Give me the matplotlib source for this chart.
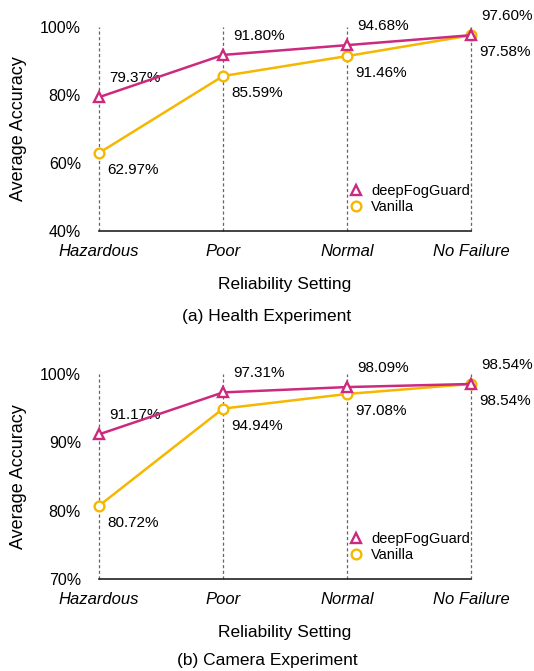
import matplotlib
matplotlib.use("Agg")
import matplotlib.pyplot as plt
from matplotlib.lines import Line2D

plt.rcParams['font.family'] = ['Liberation Sans', 'DejaVu Sans']

settings = ["Hazardous", "Poor", "Normal", "No Failure"]

health_fog = [79.37, 91.80, 94.68, 97.60]
health_vanilla = [62.97, 85.59, 91.46, 97.58]
health_ticks = [40, 60, 80, 100]

camera_fog = [91.17, 97.31, 98.09, 98.54]
camera_vanilla = [80.72, 94.94, 97.08, 98.54]
camera_ticks = [70, 80, 90, 100]

captions = ["(a) Health Experiment", "(b) Camera Experiment"]

FOG_COLOR = "#CC2A7F"
VAN_COLOR = "#F5B700"

fig = plt.figure(figsize=(5.34, 6.71), dpi=100)


def draw_panel(rect, fog, van, ticks):
    ax = fig.add_axes(rect)
    x = list(range(len(settings)))
    lo, hi = ticks[0], ticks[-1]
    # dashed guide at every setting
    for xi in x:
        ax.plot([xi, xi], [lo, hi], color="#666666", lw=0.9, ls=(0, (2.5, 2)),
                zorder=1, clip_on=False)
    ax.plot(x, van, color=VAN_COLOR, lw=1.8, marker="o", ms=7, mew=1.7,
            mfc="white", zorder=3, clip_on=False)
    ax.plot(x, fog, color=FOG_COLOR, lw=1.8, marker="^", ms=7.5, mew=1.7,
            mfc="white", zorder=4, clip_on=False)
    for xi, a, b in zip(x, fog, van):
        ax.annotate(f"{a:.2f}%", (xi, a), xytext=(10, 19),
                    textcoords="offset pixels", ha="left", va="center",
                    fontsize=11)
        ax.annotate(f"{b:.2f}%", (xi, b), xytext=(8, -17),
                    textcoords="offset pixels", ha="left", va="center",
                    fontsize=11)
    ax.set_xlim(0, len(settings) - 1)
    ax.set_ylim(lo, hi)
    ax.set_yticks(ticks)
    ax.set_yticklabels([f"{t}%" for t in ticks], fontsize=11.5)
    ax.set_xticks(x)
    ax.set_xticklabels(settings, fontsize=12, style="italic")
    ax.tick_params(axis="y", length=0, pad=13)
    ax.tick_params(axis="x", length=0, pad=9)
    for s in ["left", "right", "top"]:
        ax.spines[s].set_visible(False)
    ax.spines["bottom"].set_color("#222222")
    ax.spines["bottom"].set_linewidth(1.2)
    ax.set_xlabel("Reliability Setting", fontsize=12.5, labelpad=13)
    ax.set_ylabel("Average Accuracy", fontsize=13, labelpad=9)
    handles = [
        Line2D([], [], color=FOG_COLOR, marker="^", ms=7.5, mew=1.7,
               mfc="white", ls="None", label="deepFogGuard"),
        Line2D([], [], color=VAN_COLOR, marker="o", ms=7, mew=1.7,
               mfc="white", ls="None", label="Vanilla"),
    ]
    ax.legend(handles=handles, loc="upper left", bbox_to_anchor=(0.672, 0.23),
              frameon=False, fontsize=10.5, handlelength=1.0,
              handletextpad=0.5, borderpad=0, borderaxespad=0,
              labelspacing=0.15)
    return ax


draw_panel([0.1854, 0.6557, 0.697, 0.304], health_fog, health_vanilla, health_ticks)
draw_panel([0.1854, 0.1371, 0.697, 0.3055], camera_fog, camera_vanilla, camera_ticks)

fig.text(0.5, 1 - 317 / 671, captions[0], ha="center", va="center", fontsize=12.5)
fig.text(0.5, 1 - 661 / 671, captions[1], ha="center", va="center", fontsize=12.5)

fig.savefig("out.png", dpi=100)
